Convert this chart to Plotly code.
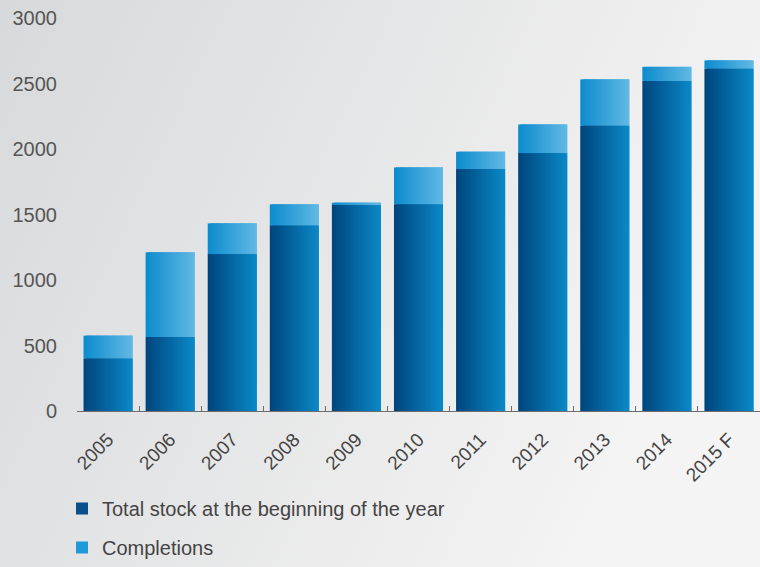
import base64
import plotly.graph_objects as go

years = ["2005", "2006", "2007", "2008", "2009", "2010", "2011", "2012", "2013", "2014", "2015 F"]
stock = [402, 565, 1198, 1417, 1572, 1579, 1847, 1969, 2180, 2520, 2615]
completions = [173, 646, 234, 160, 18, 280, 132, 218, 351, 107, 61]
y_ticks = [0, 500, 1000, 1500, 2000, 2500, 3000]

W, H = 760, 567
ML, MR, MT, MB = 77, 0, 18, 156
PW, PH = W - ML - MR, H - MT - MB

FONT = "Liberation Sans, Arial, sans-serif"

def lerp(c1, c2, t):
    return "rgb(%d,%d,%d)" % tuple(round(a + (b - a) * t) for a, b in zip(c1, c2))

stock_l, stock_r = (0, 70, 126), (10, 136, 198)
comp_l, comp_r = (14, 140, 206), (96, 184, 228)

fig = go.Figure()
N = 24
BW = 0.79
sw = BW / N
for i in range(N):
    t = i / (N - 1)
    off = -BW / 2 + i * sw
    wid = min(2.5 * sw, BW / 2 - off)
    fig.add_trace(go.Bar(
        x=years, y=stock, base=[0] * len(stock), offset=off, width=wid,
        marker=dict(color=lerp(stock_l, stock_r, t), line=dict(width=0)),
        name="Total stock at the beginning of the year", legendgroup="a",
        showlegend=False, hoverinfo="skip"))
    fig.add_trace(go.Bar(
        x=years, y=completions, base=stock, offset=off, width=wid,
        marker=dict(color=lerp(comp_l, comp_r, t), line=dict(width=0)),
        name="Completions", legendgroup="b",
        showlegend=False, hoverinfo="skip"))

# legend entries
fig.add_trace(go.Bar(x=[years[0]], y=[0], name="Total stock at the beginning of the year",
                     marker=dict(color="#0a4f8a", line=dict(width=0)), legendgroup="a",
                     showlegend=True, width=0.0001))
fig.add_trace(go.Bar(x=[years[0]], y=[0], name="Completions",
                     marker=dict(color="#1f9ad8", line=dict(width=0)), legendgroup="b",
                     showlegend=True, width=0.0001))

svg = ('<svg xmlns="http://www.w3.org/2000/svg" width="760" height="567">'
       '<defs><linearGradient id="g" x1="0" y1="0" x2="1" y2="0.35">'
       '<stop offset="0" stop-color="#d8d9db"/><stop offset="1" stop-color="#f4f4f4"/>'
       '</linearGradient></defs><rect width="760" height="567" fill="url(#g)"/></svg>')
src = "data:image/svg+xml;base64," + base64.b64encode(svg.encode()).decode()

fig.update_layout(
    width=W, height=H,
    margin=dict(l=ML, r=MR, t=MT, b=MB, pad=0),
    paper_bgcolor="rgba(0,0,0,0)", plot_bgcolor="rgba(0,0,0,0)",
    barmode="overlay",
    font=dict(family=FONT, color="#4a4a4a"),
    images=[dict(source=src, xref="paper", yref="paper",
                 x=-ML / PW, y=1 + MT / PH, sizex=W / PW, sizey=H / PH,
                 xanchor="left", yanchor="top", sizing="stretch", layer="below")],
    xaxis=dict(type="category", showgrid=False, showline=True, linecolor="#6d6d6d", linewidth=1,
               ticks="inside", tickson="boundaries", ticklen=5, tickcolor="#6d6d6d",
               tickangle=-45, tickfont=dict(size=19, color="#444444"),
               ticklabelstandoff=9, zeroline=False),
    yaxis=dict(range=[0, 3000], tickvals=y_ticks, showgrid=False, zeroline=False,
               showline=False, ticks="", tickfont=dict(size=20, color="#555555"),
               ticklabelstandoff=19),
    legend=dict(x=(62 - ML) / PW, y=-(567 - MT - PH) / PH, xanchor="left", yanchor="bottom",
                orientation="v", font=dict(size=20, color="#444444"),
                bgcolor="rgba(0,0,0,0)", tracegroupgap=10, traceorder="grouped",
                itemwidth=30),
    showlegend=True,
)

post = ("document.documentElement.style.overflow='hidden';"
        "document.body.style.margin='0';document.body.style.overflow='hidden';"
        "var d=document.getElementById('{plot_id}');"
        "d.style.position='absolute';d.style.left='0px';d.style.top='0px';")

fig.write_html("out.html", config={"displayModeBar": False}, post_script=post)
